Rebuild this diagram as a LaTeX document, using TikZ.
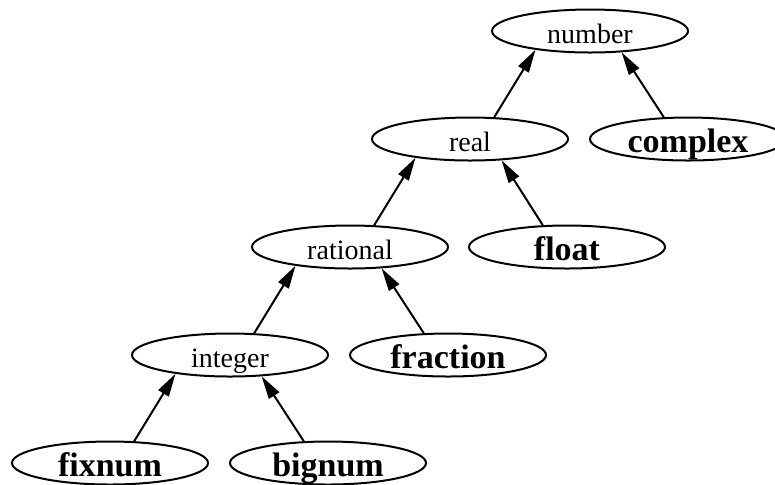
\documentclass[tikz,border=0pt]{standalone}
\usepackage{fontspec}
\setmainfont{Liberation Serif}
\usetikzlibrary{shapes.geometric,arrows.meta}

\begin{document}
\begin{tikzpicture}[x=0.5pt,y=-0.5pt,
  kind/.style={draw,ellipse,line width=1pt,inner sep=0pt,minimum width=98pt,minimum height=21.5pt,
    font=\fontsize{14}{16}\selectfont,text height=12pt,text depth=0pt},
  leaf/.style={kind,font=\fontsize{17}{20}\selectfont\bfseries,text height=13.5pt},
  isa/.style={line width=1pt,-{Triangle[length=11.5pt,width=6pt]}}]
\useasboundingbox (0,0) rectangle (775,484);
\node[kind] (number) at (590,31) {number};
\node[kind] (real) at (470,139) {real};
\node[leaf] (complex) at (688,139) {complex};
\node[kind] (rational) at (350,247) {rational};
\node[leaf] (float) at (567,247) {float};
\node[kind] (integer) at (230,355) {integer};
\node[leaf] (fraction) at (448,355) {fraction};
\node[leaf] (fixnum) at (110,463) {fixnum};
\node[leaf] (bignum) at (328,463) {bignum};
\draw[isa] (real.42) -- (number.199);
\draw[isa] (complex.138) -- (number.326);
\draw[isa] (rational.42) -- (real.199);
\draw[isa] (float.138) -- (real.326);
\draw[isa] (integer.42) -- (rational.199);
\draw[isa] (fraction.138) -- (rational.326);
\draw[isa] (fixnum.42) -- (integer.199);
\draw[isa] (bignum.138) -- (integer.326);
\end{tikzpicture}
\end{document}
